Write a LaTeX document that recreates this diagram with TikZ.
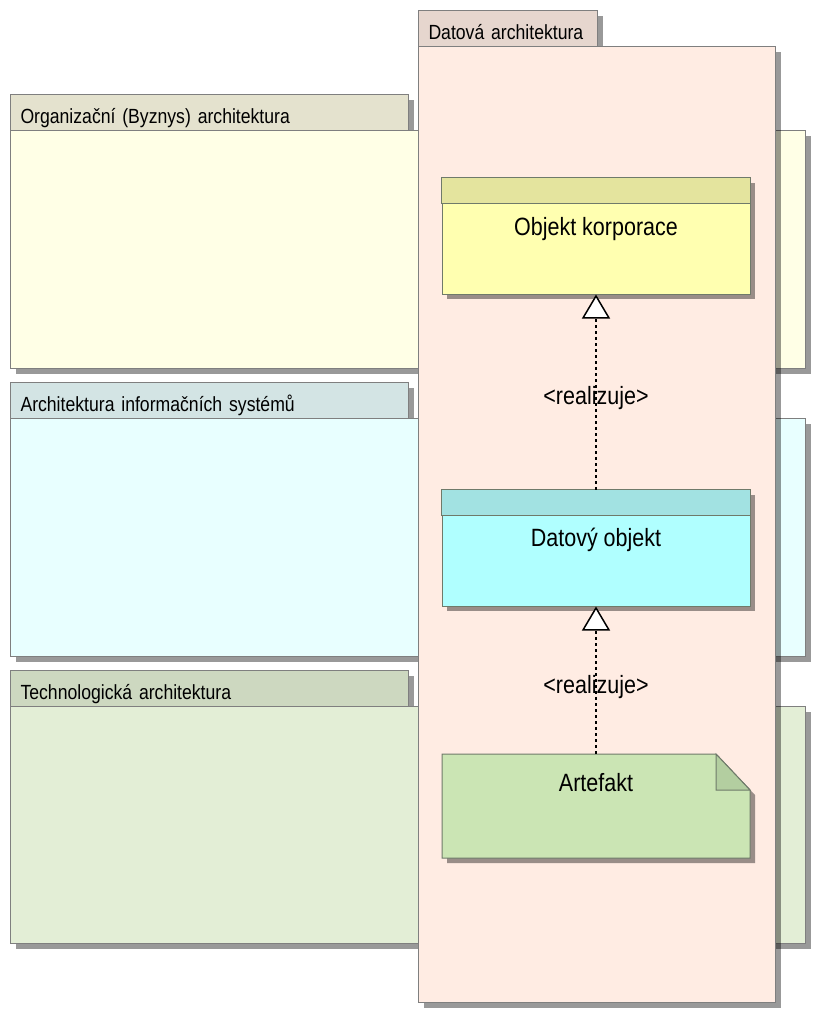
\documentclass[tikz,border=0pt]{standalone}
\usepackage{fontspec}
\setmainfont{Liberation Sans}[FakeStretch=0.86]
\usetikzlibrary{arrows.meta,shadows}
\definecolor{edge}{HTML}{7F7F7F}
\definecolor{datbody}{HTML}{FFECE3}
\definecolor{dattab}{HTML}{E6D6CE}
\definecolor{orgbody}{HTML}{FFFFE6}
\definecolor{orgtab}{HTML}{E4E2CE}
\definecolor{isbody}{HTML}{E8FFFF}
\definecolor{istab}{HTML}{D3E4E4}
\definecolor{techbody}{HTML}{E3EED6}
\definecolor{techtab}{HTML}{CDD8C0}
\definecolor{objhdr}{HTML}{E4E49E}
\definecolor{objbody}{HTML}{FFFFB0}
\definecolor{dohdr}{HTML}{A2E2E2}
\definecolor{dobody}{HTML}{B0FFFF}
\definecolor{artbody}{HTML}{CBE5B4}
\definecolor{artfold}{HTML}{B3CEA0}
\definecolor{elemedge}{HTML}{6F7A6A}
\begin{document}
\begin{tikzpicture}[x=1pt,y=-1pt,
  sh/.style={general shadow={fill=black,opacity=0.4,draw=none,shadow xshift=5pt,shadow yshift=-5pt}},
  tabfont/.style={font=\fontsize{20.5}{24}\selectfont},
  bigfont/.style={font=\fontsize{25}{30}\selectfont},
  tabbox/.style={draw=edge,line width=1pt,anchor=north west,inner xsep=10pt,inner ysep=0pt,
    minimum height=36pt,text height=22pt,text depth=0pt,align=left,tabfont,sh},
  layerbody/.style={draw=edge,line width=1pt,anchor=north west,inner sep=0pt,
    minimum width=795pt,minimum height=238pt,sh},
  elem/.style={draw=elemedge,line width=1pt,inner sep=0pt,minimum width=308pt,minimum height=116pt,sh},
  elemtext/.style={bigfont,inner sep=0pt},
  real/.style={line width=2pt,dash pattern=on 3pt off 3pt,
    -{Triangle[open,length=24pt,width=28pt,fill=white,line width=1.5pt]}},
  lbl/.style={bigfont,inner sep=0pt}
]
\useasboundingbox (0,0) rectangle (820,1018);
\fill[white] (0,0) rectangle (820,1018);

% layers
\node[tabbox,fill=orgtab,text width=378pt] (orgtab) at (10,94) {Organizační (Byznys) architektura};
\node[layerbody,fill=orgbody] (org) at (10,130) {};
\node[tabbox,fill=istab,text width=378pt] (istab) at (10,382) {Architektura informačních systémů};
\node[layerbody,fill=isbody] (is) at (10,418) {};
\node[tabbox,fill=techtab,text width=378pt] (techtab) at (10,670) {Technologická architektura};
\node[layerbody,fill=techbody,minimum height=237pt] (tech) at (10,706) {};

% data architecture
\node[tabbox,fill=dattab,text width=159pt] (dattab) at (418,10) {Datová architektura};
\node[draw=edge,line width=1pt,anchor=north west,inner sep=0pt,minimum width=357pt,
  minimum height=956pt,sh,fill=datbody] (dat) at (418,46) {};

% Objekt korporace
\node[elem,fill=objbody] (ok) at (596,236) {};
\draw[draw=elemedge,line width=1pt,fill=objhdr] (ok.north west) rectangle ([yshift=-26pt]ok.north east);
\node[elemtext] (oktext) at (596,229) {Objekt korporace};

% Datovy objekt
\node[elem,fill=dobody] (do) at (596,548) {};
\draw[draw=elemedge,line width=1pt,fill=dohdr] (do.north west) rectangle ([yshift=-26pt]do.north east);
\node[elemtext] (dotext) at (596,540) {Datový objekt};

% Artefakt
\node[inner sep=0pt,minimum width=308pt,minimum height=104pt] (art) at (596,806) {};
\fill[black,opacity=0.4] (447,759) -- (721,759) -- (755,795) -- (755,863) -- (447,863) -- cycle;
\draw[draw=elemedge,line width=1pt,fill=artbody] (442,754) -- (716,754) -- (750,790) -- (750,858) -- (442,858) -- cycle;
\draw[draw=elemedge,line width=1pt,fill=artfold] (716,754) -- (716,790) -- (750,790) -- cycle;
\node[elemtext] (arttext) at (596,783) {Artefakt};

% connectors
\draw[real] (do.north) -- node[lbl,pos=0.47] (l1) {\textless realizuje\textgreater} (ok.south);
\draw[real] (art.north) -- node[lbl,pos=0.455] (l2) {\textless realizuje\textgreater} (do.south);
\end{tikzpicture}
\end{document}
